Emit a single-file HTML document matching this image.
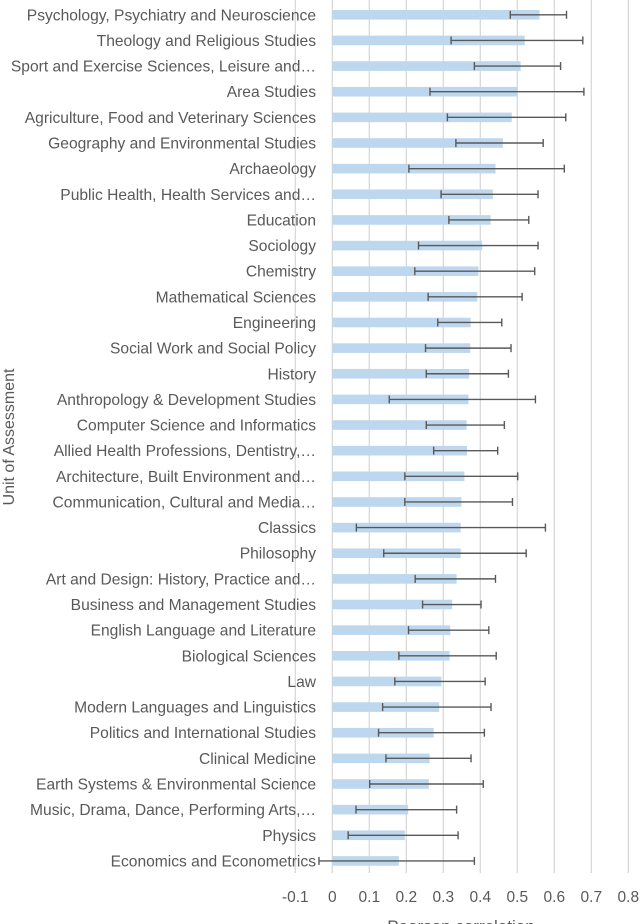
<!DOCTYPE html>
<html><head><meta charset="utf-8">
<style>
html,body{margin:0;padding:0;background:#fff;}
svg{display:block;font-family:"Liberation Sans",sans-serif;}
</style></head>
<body>
<svg id="chart" width="640" height="924" viewBox="0 0 640 924" xmlns="http://www.w3.org/2000/svg">
<g id="grid"></g>
<g id="bars"></g>
<g id="errs"></g>
<g id="ylabels"></g>
<g id="xlabels"></g>
<text x="0" y="0" transform="translate(14,437) rotate(-90)" text-anchor="middle" font-size="16" fill="#595959">Unit of Assessment</text>
<text x="461" y="932" text-anchor="middle" font-size="17" fill="#595959">Pearson correlation</text>
</svg>
<script>
const categories = ["Psychology, Psychiatry and Neuroscience","Theology and Religious Studies","Sport and Exercise Sciences, Leisure and…","Area Studies","Agriculture, Food and Veterinary Sciences","Geography and Environmental Studies","Archaeology","Public Health, Health Services and…","Education","Sociology","Chemistry","Mathematical Sciences","Engineering","Social Work and Social Policy","History","Anthropology & Development Studies","Computer Science and Informatics","Allied Health Professions, Dentistry,…","Architecture, Built Environment and…","Communication, Cultural and Media…","Classics","Philosophy","Art and Design: History, Practice and…","Business and Management Studies","English Language and Literature","Biological Sciences","Law","Modern Languages and Linguistics","Politics and International Studies","Clinical Medicine","Earth Systems & Environmental Science","Music, Drama, Dance, Performing Arts,…","Physics","Economics and Econometrics"];
const values = [0.560,0.520,0.509,0.500,0.485,0.461,0.441,0.434,0.428,0.405,0.395,0.392,0.374,0.373,0.370,0.368,0.363,0.364,0.357,0.349,0.347,0.347,0.336,0.324,0.319,0.317,0.295,0.289,0.274,0.263,0.261,0.205,0.196,0.180];
const lows = [0.481,0.321,0.384,0.264,0.311,0.334,0.207,0.294,0.315,0.233,0.223,0.259,0.285,0.252,0.254,0.154,0.254,0.274,0.196,0.196,0.065,0.139,0.224,0.244,0.206,0.180,0.169,0.136,0.125,0.145,0.101,0.064,0.043,-0.036];
const highs = [0.633,0.677,0.617,0.680,0.631,0.570,0.627,0.556,0.531,0.556,0.547,0.513,0.458,0.483,0.476,0.549,0.465,0.447,0.501,0.487,0.576,0.524,0.441,0.402,0.423,0.443,0.413,0.429,0.411,0.375,0.408,0.336,0.340,0.384];
const xTicks = [-0.1,0,0.1,0.2,0.3,0.4,0.5,0.6,0.7,0.8];
const xTickLabels = ["-0.1","0","0.1","0.2","0.3","0.4","0.5","0.6","0.7","0.8"];

const NS = "http://www.w3.org/2000/svg";
const x0 = 332.3, pxPerUnit = 370, gridTop = 0, gridBottom = 873;
const rowTop = 14.8, rowStep = 25.64;
function xs(v){ return x0 + v * pxPerUnit; }
function ys(i){ return rowTop + i * rowStep; }
function mk(tag, attrs){ const e = document.createElementNS(NS, tag); for (const k in attrs) e.setAttribute(k, attrs[k]); return e; }

const grid = document.getElementById('grid');
const xl = document.getElementById('xlabels');
xTicks.forEach((t, i) => {
  const l = mk('line', {x1: xs(t), x2: xs(t), y1: gridTop, y2: gridBottom, stroke: '#d9d9d9', 'stroke-width': 1.3});
  
  
  grid.appendChild(l);
  const tx = mk('text', {x: xs(t), y: 902, 'text-anchor': 'middle', 'font-size': 15.5, fill: '#595959'});
  
  
  tx.textContent = xTickLabels[i];
  xl.appendChild(tx);
});

const bars = document.getElementById('bars');
const errs = document.getElementById('errs');
const yl = document.getElementById('ylabels');
categories.forEach((c, i) => {
  const y = ys(i);
  const v = values[i];
  const r = mk('rect', {x: Math.min(xs(0), xs(v)), y: y - 4.8, width: Math.abs(xs(v) - xs(0)), height: 9.6, fill: '#bdd7ee'});
  
  
  bars.appendChild(r);
  const g = mk('g', {stroke: '#595959', 'stroke-width': 1.4});
  
  
  g.appendChild(mk('line', {x1: xs(lows[i]), x2: xs(highs[i]), y1: y, y2: y}));
  g.appendChild(mk('line', {x1: xs(lows[i]), x2: xs(lows[i]), y1: y - 4, y2: y + 4}));
  g.appendChild(mk('line', {x1: xs(highs[i]), x2: xs(highs[i]), y1: y - 4, y2: y + 4}));
  errs.appendChild(g);
  const t = mk('text', {x: 316, y: y + 5.5, 'text-anchor': 'end', 'font-size': 15.6, fill: '#595959'});
  
  
  t.textContent = c;
  yl.appendChild(t);
});
</script>
</body></html>
